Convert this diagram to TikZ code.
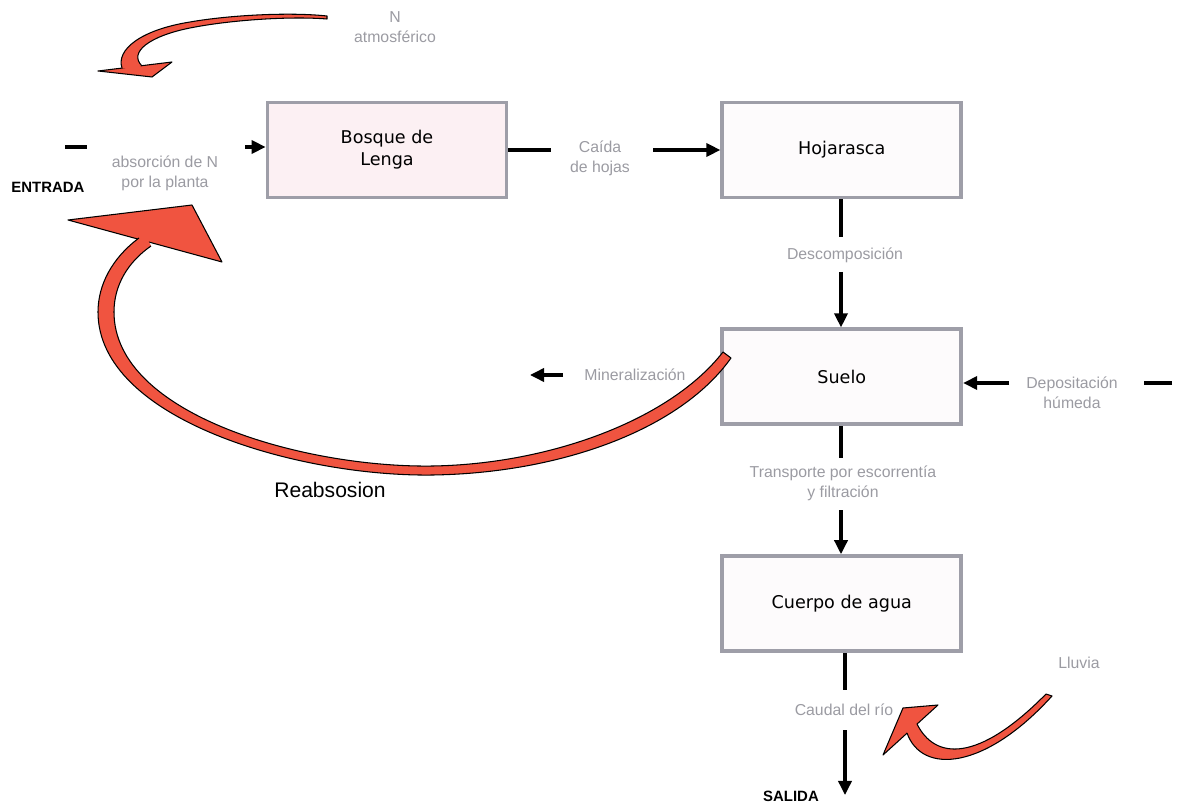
\documentclass[tikz,border=0pt]{standalone}
\usepackage{fontspec}
\setmainfont{Liberation Sans}
\newfontfamily\boxfont{DejaVu Sans}
\usetikzlibrary{arrows.meta,calc,positioning}
\definecolor{boxgray}{RGB}{158,158,168}
\definecolor{lblgray}{RGB}{155,155,162}
\definecolor{leafred}{RGB}{240,84,64}
\definecolor{lengafill}{RGB}{252,240,243}
\definecolor{plainfill}{RGB}{253,251,252}
\tikzstyle{compart} = [draw=boxgray,line width=2.2pt,fill=plainfill,minimum width=4.78cm,minimum height=1.9cm,inner sep=0,align=center,font=\boxfont\fontsize{10}{12.5}\selectfont]
\tikzstyle{flux} = [text=lblgray,inner sep=0,align=center,font=\fontsize{9}{11.3}\selectfont]
\tikzstyle{bound} = [inner sep=0,font=\bfseries\fontsize{8.5}{10}\selectfont]
\tikzstyle{link} = [-,line width=1.8pt]
\tikzstyle{linkarrow} = [link,-{Triangle[length=8pt,width=7.5pt]}]
\tikzstyle{redbody} = [fill=leafred]
\tikzstyle{rededge} = [draw=black,line width=0.6pt,line join=round]

\begin{document}
\begin{tikzpicture}[x=0.02cm,y=-0.02cm,node distance=2.56cm]
  \useasboundingbox (0,0) rectangle (1184,804);
  % compartments
  \node[compart,fill=lengafill] (bosque) at (387,150) {Bosque de\\Lenga};
  \node[compart,right=4.24cm of bosque] (hoja) {Hojarasca};
  \node[compart,below=of hoja] (suelo) {Suelo};
  \node[compart,below=of suelo] (cuerpo) {Cuerpo de agua};
  % flux labels
  \node[flux] (atmos) at (395,27) {N\\atmosférico};
  \node[flux] (absor) at (165,173) {absorción de N\\por la planta};
  \node[flux] (caida) at (600,158) {Caída\\de hojas};
  \node[flux] (descomp) at (845,255) {Descomposición};
  \node[flux] (mineral) at (635,375) {Mineralización};
  \node[flux] (depos) at (1072,393) {Depositación\\húmeda};
  \node[flux] (transp) at (843,483) {Transporte por escorrentía\\y filtración};
  \node[flux] (caudal) at (844,710) {Caudal del río};
  \node[flux] (lluvia) at (1079,663) {Lluvia};
  \node[bound] (entrada) at (48,187) {ENTRADA};
  \node[bound] (salida) at (791,796) {SALIDA};
  \node[font=\fontsize{12}{14}\selectfont] (reab) at (330,490) {Reabsosion};
  % free ends of the flux lines
  \coordinate (entrada-tail) at ($(entrada)+(17,-40)$);
  \coordinate (entrada-cut) at ($(entrada)+(39,-40)$);
  \coordinate (absor-head) at ($(absor)+(80,-26)$);
  \coordinate (caida-in) at ($(caida)+(-49,-8)$);
  \coordinate (caida-out) at ($(caida)+(53,-8)$);
  \coordinate (descomp-in) at ($(descomp)+(-4,-18)$);
  \coordinate (descomp-out) at ($(descomp)+(-4,17)$);
  \coordinate (mineral-out) at ($(mineral)+(-72,0)$);
  \coordinate (mineral-end) at ($(mineral)+(-105,0)$);
  \coordinate (depos-tail) at ($(depos)+(100,-10)$);
  \coordinate (depos-cut) at ($(depos)+(72,-10)$);
  \coordinate (depos-head) at ($(depos)+(-63,-10)$);
  \coordinate (transp-in) at ($(transp)+(-2,-25)$);
  \coordinate (transp-out) at ($(transp)+(-2,27)$);
  \coordinate (caudal-in) at ($(caudal)+(1,-20)$);
  \coordinate (caudal-out) at ($(caudal)+(1,20)$);
  \coordinate (salida-in) at ($(salida)+(54,-1)$);
  % flux lines
  \draw[link] (entrada-tail) -- (entrada-cut);
  \draw[linkarrow] (absor-head) -- (absor-head -| bosque.west);
  \draw[link] (bosque.east |- caida-in) -- (caida-in);
  \draw[linkarrow] (caida-out) -- (caida-out -| hoja.west);
  \draw[link] (descomp-in |- hoja.south) -- (descomp-in);
  \draw[linkarrow] (descomp-out) -- (descomp-out |- suelo.north);
  \draw[linkarrow] (mineral-out) -- (mineral-end);
  \draw[link] (depos-tail) -- (depos-cut);
  \draw[linkarrow] (depos-head) -- (depos-head -| suelo.east);
  \draw[link] (transp-in |- suelo.south) -- (transp-in);
  \draw[linkarrow] (transp-out) -- (transp-out |- cuerpo.north);
  \draw[link] (caudal-in |- cuerpo.south) -- (caudal-in);
  \draw[linkarrow] (caudal-out) -- (salida-in);
  % red arrow: N atmosferico
  \filldraw[redbody,rededge] (98,71) -- (172,62) -- (152,77) -- cycle;
  \fill[redbody] (132,70) -- (122,68) .. controls (116,50) and (140,30) .. (190,22) .. controls (230,15) and (290,12) .. (327,16)
    -- (327,19) .. controls (290,16) and (230,20) .. (190,28) .. controls (150,36) and (128,52) .. (142,66) -- cycle;
  \draw[rededge] (122,68) .. controls (116,50) and (140,30) .. (190,22) .. controls (230,15) and (290,12) .. (327,16)
    -- (327,19) .. controls (290,16) and (230,20) .. (190,28) .. controls (150,36) and (128,52) .. (142,66);
  % red arrow: reabsorcion
  \filldraw[redbody,rededge] (68,220) -- (192,205) -- (222,262) -- cycle;
  \fill[redbody] (146,236) -- (139,238) .. controls (112,258) and (98,285) .. (98,312)
    .. controls (98,420) and (300,477) .. (433,475) .. controls (560,473) and (680,430) .. (731,358)
    -- (723,352) .. controls (670,420) and (550,464) .. (433,466)
    .. controls (305,468) and (114,415) .. (114,312) .. controls (114,285) and (128,262) .. (151,246) -- cycle;
  \draw[rededge] (139,238) .. controls (112,258) and (98,285) .. (98,312)
    .. controls (98,420) and (300,477) .. (433,475) .. controls (560,473) and (680,430) .. (731,358)
    -- (723,352) .. controls (670,420) and (550,464) .. (433,466)
    .. controls (305,468) and (114,415) .. (114,312) .. controls (114,285) and (128,262) .. (151,246);
  % red arrow: lluvia
  \filldraw[redbody,rededge] (903,708) -- (938,705) -- (883,755) -- cycle;
  \fill[redbody] (908,725) -- (907,733) .. controls (922,775) and (985,770) .. (1052,696)
    -- (1046,694) .. controls (978,763) and (935,760) .. (917,724) -- cycle;
  \draw[rededge] (907,733) .. controls (922,775) and (985,770) .. (1052,696)
    -- (1046,694) .. controls (978,763) and (935,760) .. (917,724);
\end{tikzpicture}
\end{document}
